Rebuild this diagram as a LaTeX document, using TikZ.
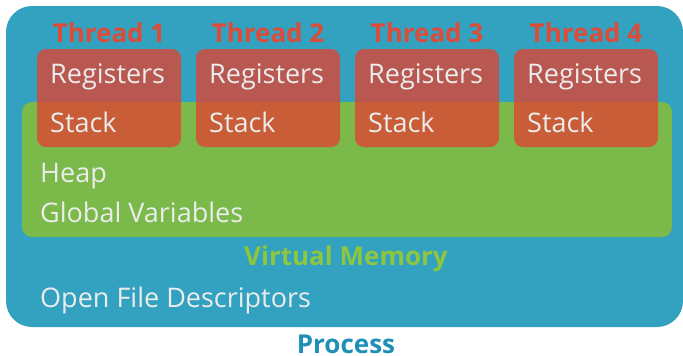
\documentclass[tikz,border=0pt]{standalone}
\usepackage{fontspec}
\setmainfont{Open Sans}
\definecolor{procblue}{RGB}{51,161,192}
\definecolor{memgreen}{RGB}{122,185,74}
\definecolor{thrred}{RGB}{221,69,50}
\definecolor{titlered}{RGB}{221,75,57}
\definecolor{vmtext}{RGB}{141,198,63}
\definecolor{proctext}{RGB}{30,143,181}
\definecolor{lbl}{RGB}{236,236,236}
\tikzset{
  lab/.style={anchor=base west, inner sep=0pt, text=lbl, font=\fontsize{27}{32}\selectfont},
  ttl/.style={anchor=base, inner sep=0pt, font=\bfseries\fontsize{26}{31}\selectfont},
  thrbox/.style={fill=thrred, fill opacity=0.79, rounded corners=9pt},
}
\begin{document}
\begin{tikzpicture}[x=1pt,y=-1pt]
\useasboundingbox (0,0) rectangle (683,356);
\fill[procblue, rounded corners=26pt] (6,6) rectangle (683,327);
\fill[memgreen, rounded corners=10pt] (22,102) rectangle (672,237);
\foreach \i/\xl in {1/37,2/196,3/355,4/514}{
  \fill[thrbox] (\xl,49) rectangle ++(144,98);
  \node[ttl, text=titlered] (t\i) at (\xl+72,42) {Thread \i};
  \node[lab] (r\i) at (\xl+13,83) {Registers};
  \node[lab] (s\i) at (\xl+13,132) {Stack};
}
\node[lab] (heap) at (40,182) {Heap};
\node[lab] (glob) at (40,222) {Global Variables};
\node[ttl, text=vmtext] (vm) at (346,265) {Virtual Memory};
\node[lab] (ofd) at (40,307) {Open File Descriptors};
\node[ttl, text=proctext, text depth=0pt] (proc) at (346,353) {Process};
\end{tikzpicture}
\end{document}
